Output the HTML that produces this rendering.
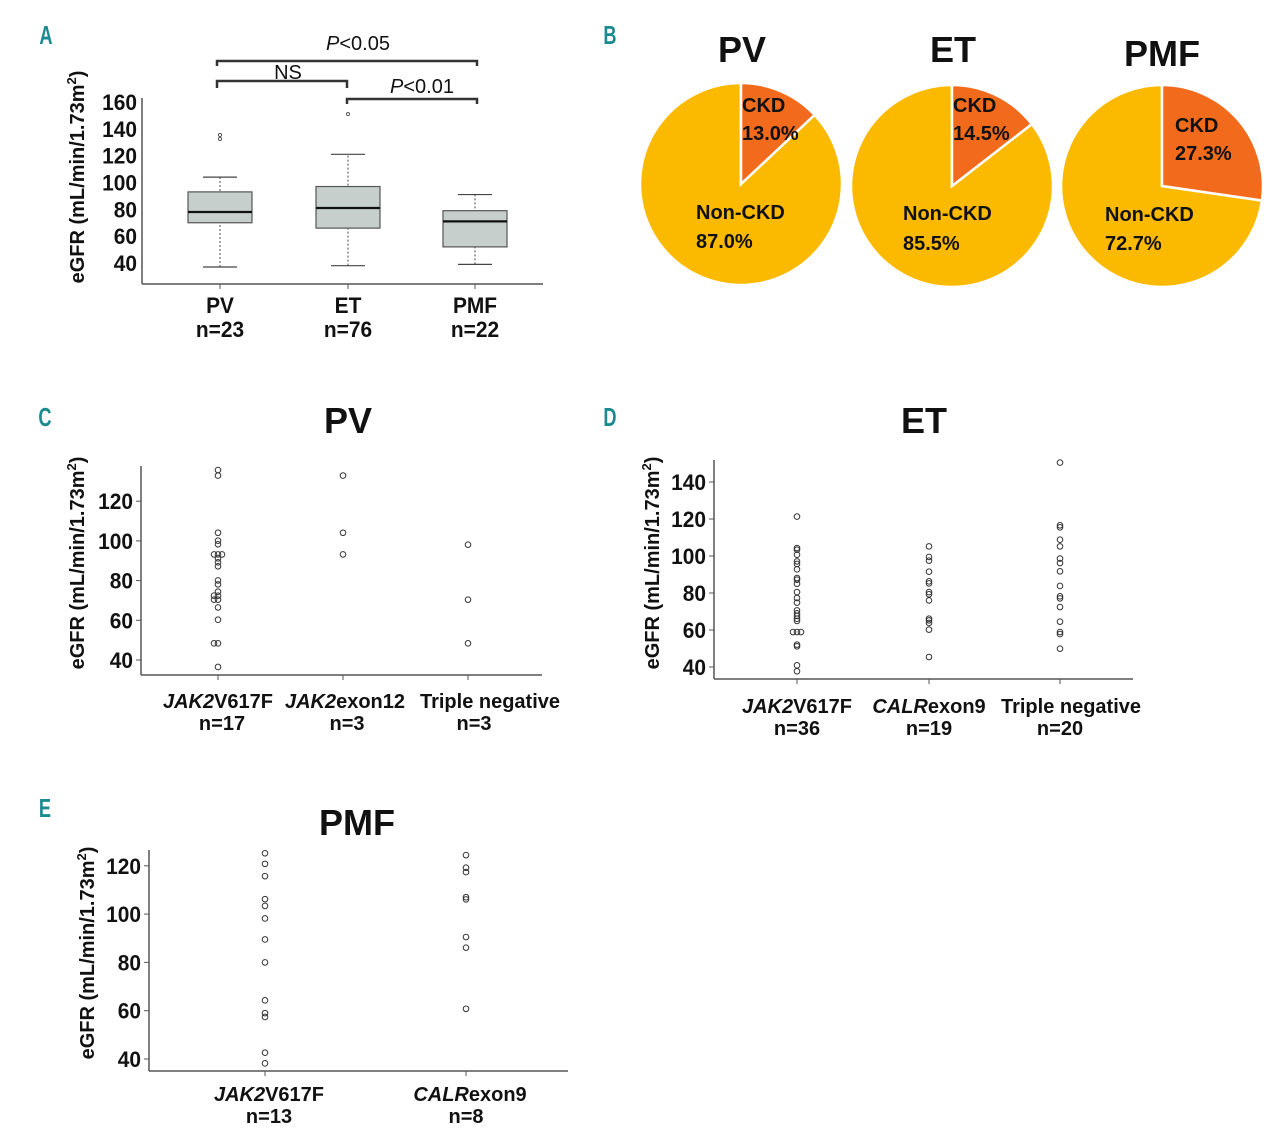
<!DOCTYPE html>
<html><head><meta charset="utf-8">
<style>
body{margin:0;background:#fff;}
svg{display:block;font-family:"Liberation Sans",sans-serif;}
.lab{fill:#1b8a8f;font-size:26px;font-weight:bold;}
.tk{font-size:20px;font-weight:bold;fill:#111;}
.num{font-size:22px;font-weight:bold;fill:#111;}
.ttl{font-size:36px;font-weight:bold;fill:#111;}
</style></head><body>
<svg id="fig" width="1280" height="1137" viewBox="0 0 1280 1137"></svg>
<script>
// Panel A box stats: [whiskerLow, q1, median, q3, whiskerHigh]
const aCategories = ["PV","ET","PMF"];
const aCounts = ["n=23","n=76","n=22"];
const aStats = [[37,70,78,93,104],[38,66,81,97,121],[39,52,71,79,91]];
const aOutliers = [[132.4,135.4],[151],[]];
const aTicks = [40,60,80,100,120,140,160];
// Pies
const pieGroups = ["PV","ET","PMF"];
const pieCKD = [13.0,14.5,27.3];
// Panel C
const cCategories = ["JAK2|V617F","JAK2|exon12","|Triple negative"];
const cCounts = ["n=17","n=3","n=3"];
const cValues = [[135.7,132.9,104.1,100.1,98.3,93.2,93.2,93.2,91.2,89.2,87.2,80.1,78.1,74.4,72.4,72.4,70.4,70.4,66.5,60.3,48.4,48.4,36.5],[132.9,104.1,93.2],[98.1,70.4,48.4]];
const cTicks = [40,60,80,100,120];
// Panel D
const dCategories = ["JAK2|V617F","CALR|exon9","|Triple negative"];
const dCounts = ["n=36","n=19","n=20"];
const dValues = [[121.3,104.3,103.4,100.7,97.1,95.7,92.8,88.1,87.2,85,80.5,77.3,74.8,70.6,69,67.6,66.1,64.9,58.9,58.9,58.9,52.1,51.2,40.9,37.7],[105.2,99.5,97.5,91.5,86.3,85.2,80.5,79.3,76,66.1,65.2,63.8,60.2,45.4],[150.5,116.6,115.5,108.8,105.2,98.6,96.2,91.7,83.8,78.2,77.1,72.4,64.5,58.9,57.8,49.9]];
const dTicks = [40,60,80,100,120,140];
// Panel E
const eCategories = ["JAK2|V617F","CALR|exon9"];
const eCounts = ["n=13","n=8"];
const eValues = [[125.2,120.8,115.7,106.2,103.4,98.2,89.5,80,64.3,59,57.4,42.6,38.2],[124.4,119.2,117.4,107,106.1,90.5,86.1,60.8]];
const eTicks = [40,60,80,100,120];

const svg=document.getElementById('fig');
const NS='http://www.w3.org/2000/svg';
function mk(tag,attrs,parent){const e=document.createElementNS(NS,tag);for(const k in attrs)e.setAttribute(k,attrs[k]);(parent||svg).appendChild(e);return e;}
function txt(x,y,s,cls,name,anchor,sx){const t=mk('text',{x:0,y:0,transform:`translate(${x},${y}) scale(${sx||1},1)`,class:cls,'text-anchor':anchor||'middle'});t.textContent=s;


return t;}
function ytitle(x,y,name){const t=mk('text',{x:0,y:0,transform:`translate(${x},${y}) rotate(-90)`,'text-anchor':'middle',class:'tk','font-size':'21'});
t.innerHTML='eGFR (mL/min/1.73m<tspan dy="-8" font-size="13">2</tspan><tspan dy="8">)</tspan>';

}
function catLabel(x,y,s,name){const p=s.split('|');const t=mk('text',{x:x,y:y,'text-anchor':'middle',class:'tk'});
if(p[0]){const a=mk('tspan',{'font-style':'italic'},t);a.textContent=p[0];}
const b=mk('tspan',{},t);b.textContent=p[1];

}

// panel labels
[["A",46,44],["B",610,44],["C",45,426],["D",610,426],["E",45,817]].forEach(l=>{txt(l[1],l[2],l[0],'lab','panel-label-'+l[0].toLowerCase(),'middle',0.7);});

// ---------- Panel A ----------
{
const y=v=>263-(v-40)*(161/120);
const xs=[220,348,475];
const g=mk('g',{});


mk('line',{x1:142,y1:98,x2:142,y2:284,stroke:'#555','stroke-width':1.5},g);
mk('line',{x1:142,y1:284,x2:543,y2:284,stroke:'#555','stroke-width':1.5},g);
aTicks.forEach(t=>{txt(137,y(t)+8,t,'num','y-tick-a-'+t,'end',0.95);});
aCategories.forEach((c,i)=>{
 const x=xs[i],s=aStats[i];
 mk('line',{x1:x,y1:284,x2:x,y2:289,stroke:'#555'},g);
 mk('line',{x1:x,y1:y(s[0]),x2:x,y2:y(s[4]),stroke:'#444','stroke-dasharray':'2,2'},g);
 mk('line',{x1:x-17,y1:y(s[0]),x2:x+17,y2:y(s[0]),stroke:'#444','stroke-width':1.2},g);
 mk('line',{x1:x-17,y1:y(s[4]),x2:x+17,y2:y(s[4]),stroke:'#444','stroke-width':1.2},g);
 const r=mk('rect',{x:x-32,y:y(s[3]),width:64,height:y(s[1])-y(s[3]),fill:'#c6cfcb',stroke:'#555','stroke-width':1.2},g);
 
 
 mk('line',{x1:x-32,y1:y(s[2]),x2:x+32,y2:y(s[2]),stroke:'#111','stroke-width':2.2},g);
 aOutliers[i].forEach(o=>mk('circle',{cx:x,cy:y(o),r:1.6,fill:'none',stroke:'#555'},g));
 txt(x,313,c,'num','x-label-a-'+c.toLowerCase(),'middle',0.95);
 txt(x,337,aCounts[i],'num','count-a-'+c.toLowerCase(),'middle',0.95);
});
// brackets
[[217,477,61,5],[217,347,81,7],[347,477,99,5]].forEach((b,i)=>{
 const p=mk('path',{d:`M${b[0]} ${b[2]+b[3]} V${b[2]} H${b[1]} V${b[2]+b[3]}`,fill:'none',stroke:'#333','stroke-width':2.5},g);
 
 
});
const t1=mk('text',{x:358,y:50,'text-anchor':'middle','font-size':20,fill:'#111'});t1.innerHTML='<tspan font-style="italic">P</tspan>&lt;0.05';


const t2=mk('text',{x:288,y:79,'text-anchor':'middle','font-size':20,fill:'#111'});t2.textContent='NS';


const t3=mk('text',{x:422,y:93,'text-anchor':'middle','font-size':20,fill:'#111'});t3.innerHTML='<tspan font-style="italic">P</tspan>&lt;0.01';


ytitle(84,177,'y-axis-title-a');
}

// ---------- Pies ----------
{
const cx=[741,952,1162],cy=[184,186,186],R=101;
const titleY=[62,62,66];
const ckdPos=[[742,112,140],[953,112,140],[1175,132,160]];
const nonPos=[[696,219,248],[903,220,250],[1105,221,250]];
pieGroups.forEach((gname,i)=>{
 const g=mk('g',{});
 
 
 const a=pieCKD[i]/100*2*Math.PI;
 const x1=cx[i]+R*Math.sin(a),y1=cy[i]-R*Math.cos(a);
 const large=a>Math.PI?1:0;
 const bg=mk('path',{d:`M${cx[i]} ${cy[i]} L${x1} ${y1} A${R} ${R} 0 ${1-large} 1 ${cx[i]} ${cy[i]-R} Z`,fill:'#fbba00',stroke:'#fff','stroke-width':2.5},g);
 
 
 const ck=mk('path',{d:`M${cx[i]} ${cy[i]} L${cx[i]} ${cy[i]-R} A${R} ${R} 0 ${large} 1 ${x1} ${y1} Z`,fill:'#f26b1d',stroke:'#fff','stroke-width':2.5},g);
 
 
 txt(cx[i]+(i==2?0:1),titleY[i],gname,'ttl','pie-title-'+gname.toLowerCase());
 txt(ckdPos[i][0],ckdPos[i][1],'CKD','tk','ckd-label-'+gname.toLowerCase(),'start');
 txt(ckdPos[i][0],ckdPos[i][2],pieCKD[i].toFixed(1)+'%','tk','ckd-pct-'+gname.toLowerCase(),'start');
 txt(nonPos[i][0],nonPos[i][1],'Non-CKD','tk','nonckd-label-'+gname.toLowerCase(),'start');
 txt(nonPos[i][0],nonPos[i][2],(100-pieCKD[i]).toFixed(1)+'%','tk','nonckd-pct-'+gname.toLowerCase(),'start');
});
}

// ---------- Dot plots ----------
function dotPanel(o){
 const g=mk('g',{});
 
 
 const y=v=>o.y40-(v-40)*o.per20/20;
 mk('line',{x1:o.x0,y1:o.yTop,x2:o.x0,y2:o.yAx,stroke:'#555','stroke-width':1.5},g);
 mk('line',{x1:o.x0,y1:o.yAx,x2:o.x1,y2:o.yAx,stroke:'#555','stroke-width':1.5},g);
 o.ticks.forEach(t=>{mk('line',{x1:o.x0-5,y1:y(t),x2:o.x0,y2:y(t),stroke:'#555'},g);txt(o.x0-8,y(t)+8,t,'num','y-tick-'+o.id+'-'+t,'end',0.95);});
 o.cats.forEach((c,i)=>{
  const x=o.xs[i];
  mk('line',{x1:x,y1:o.yAx,x2:x,y2:o.yAx+5,stroke:'#555'},g);
  const seen={};
  o.vals[i].forEach(v=>{
   const k=Math.round(v*2);seen[k]=(seen[k]||0)+1;const n=seen[k];
   const dx=n==1?0:(n%2==0?-4:4);
   const p=mk('circle',{cx:x+dx,cy:y(v),r:2.8,fill:'none',stroke:'#333','stroke-width':1},g);
   
   
  });
  catLabel(x+(o.ldx[i]||0),o.labY,c,'x-label-'+o.id+'-'+i);
  txt(x+(o.ndx[i]||0),o.labY+22,o.counts[i],'tk','count-'+o.id+'-'+i);
 });
 txt(o.titleX,o.titleY,o.title,'ttl','title-'+o.id);
 ytitle(o.ytX,o.ytY,'y-axis-title-'+o.id);
}
dotPanel({name:'panel-c-pv',id:'c',x0:141,x1:542,yTop:466,yAx:675,y40:660,per20:39.7,ticks:cTicks,cats:cCategories,counts:cCounts,vals:cValues,xs:[218,343,468],ldx:[0,2,22],ndx:[4,4,6],labY:708,title:'PV',titleX:348,titleY:433,ytX:84,ytY:563});
dotPanel({name:'panel-d-et',id:'d',x0:714,x1:1133,yTop:460,yAx:679,y40:667,per20:37,ticks:dTicks,cats:dCategories,counts:dCounts,vals:dValues,xs:[797,929,1060],ldx:[0,0,11],ndx:[0,0,0],labY:713,title:'ET',titleX:924,titleY:433,ytX:659,ytY:563});
dotPanel({name:'panel-e-pmf',id:'e',x0:149,x1:568,yTop:850,yAx:1071,y40:1059,per20:48.3,ticks:eTicks,cats:eCategories,counts:eCounts,vals:eValues,xs:[265,466],ldx:[4,4],ndx:[4,0],labY:1101,title:'PMF',titleX:357,titleY:835,ytX:94,ytY:953});
</script>
</body></html>
